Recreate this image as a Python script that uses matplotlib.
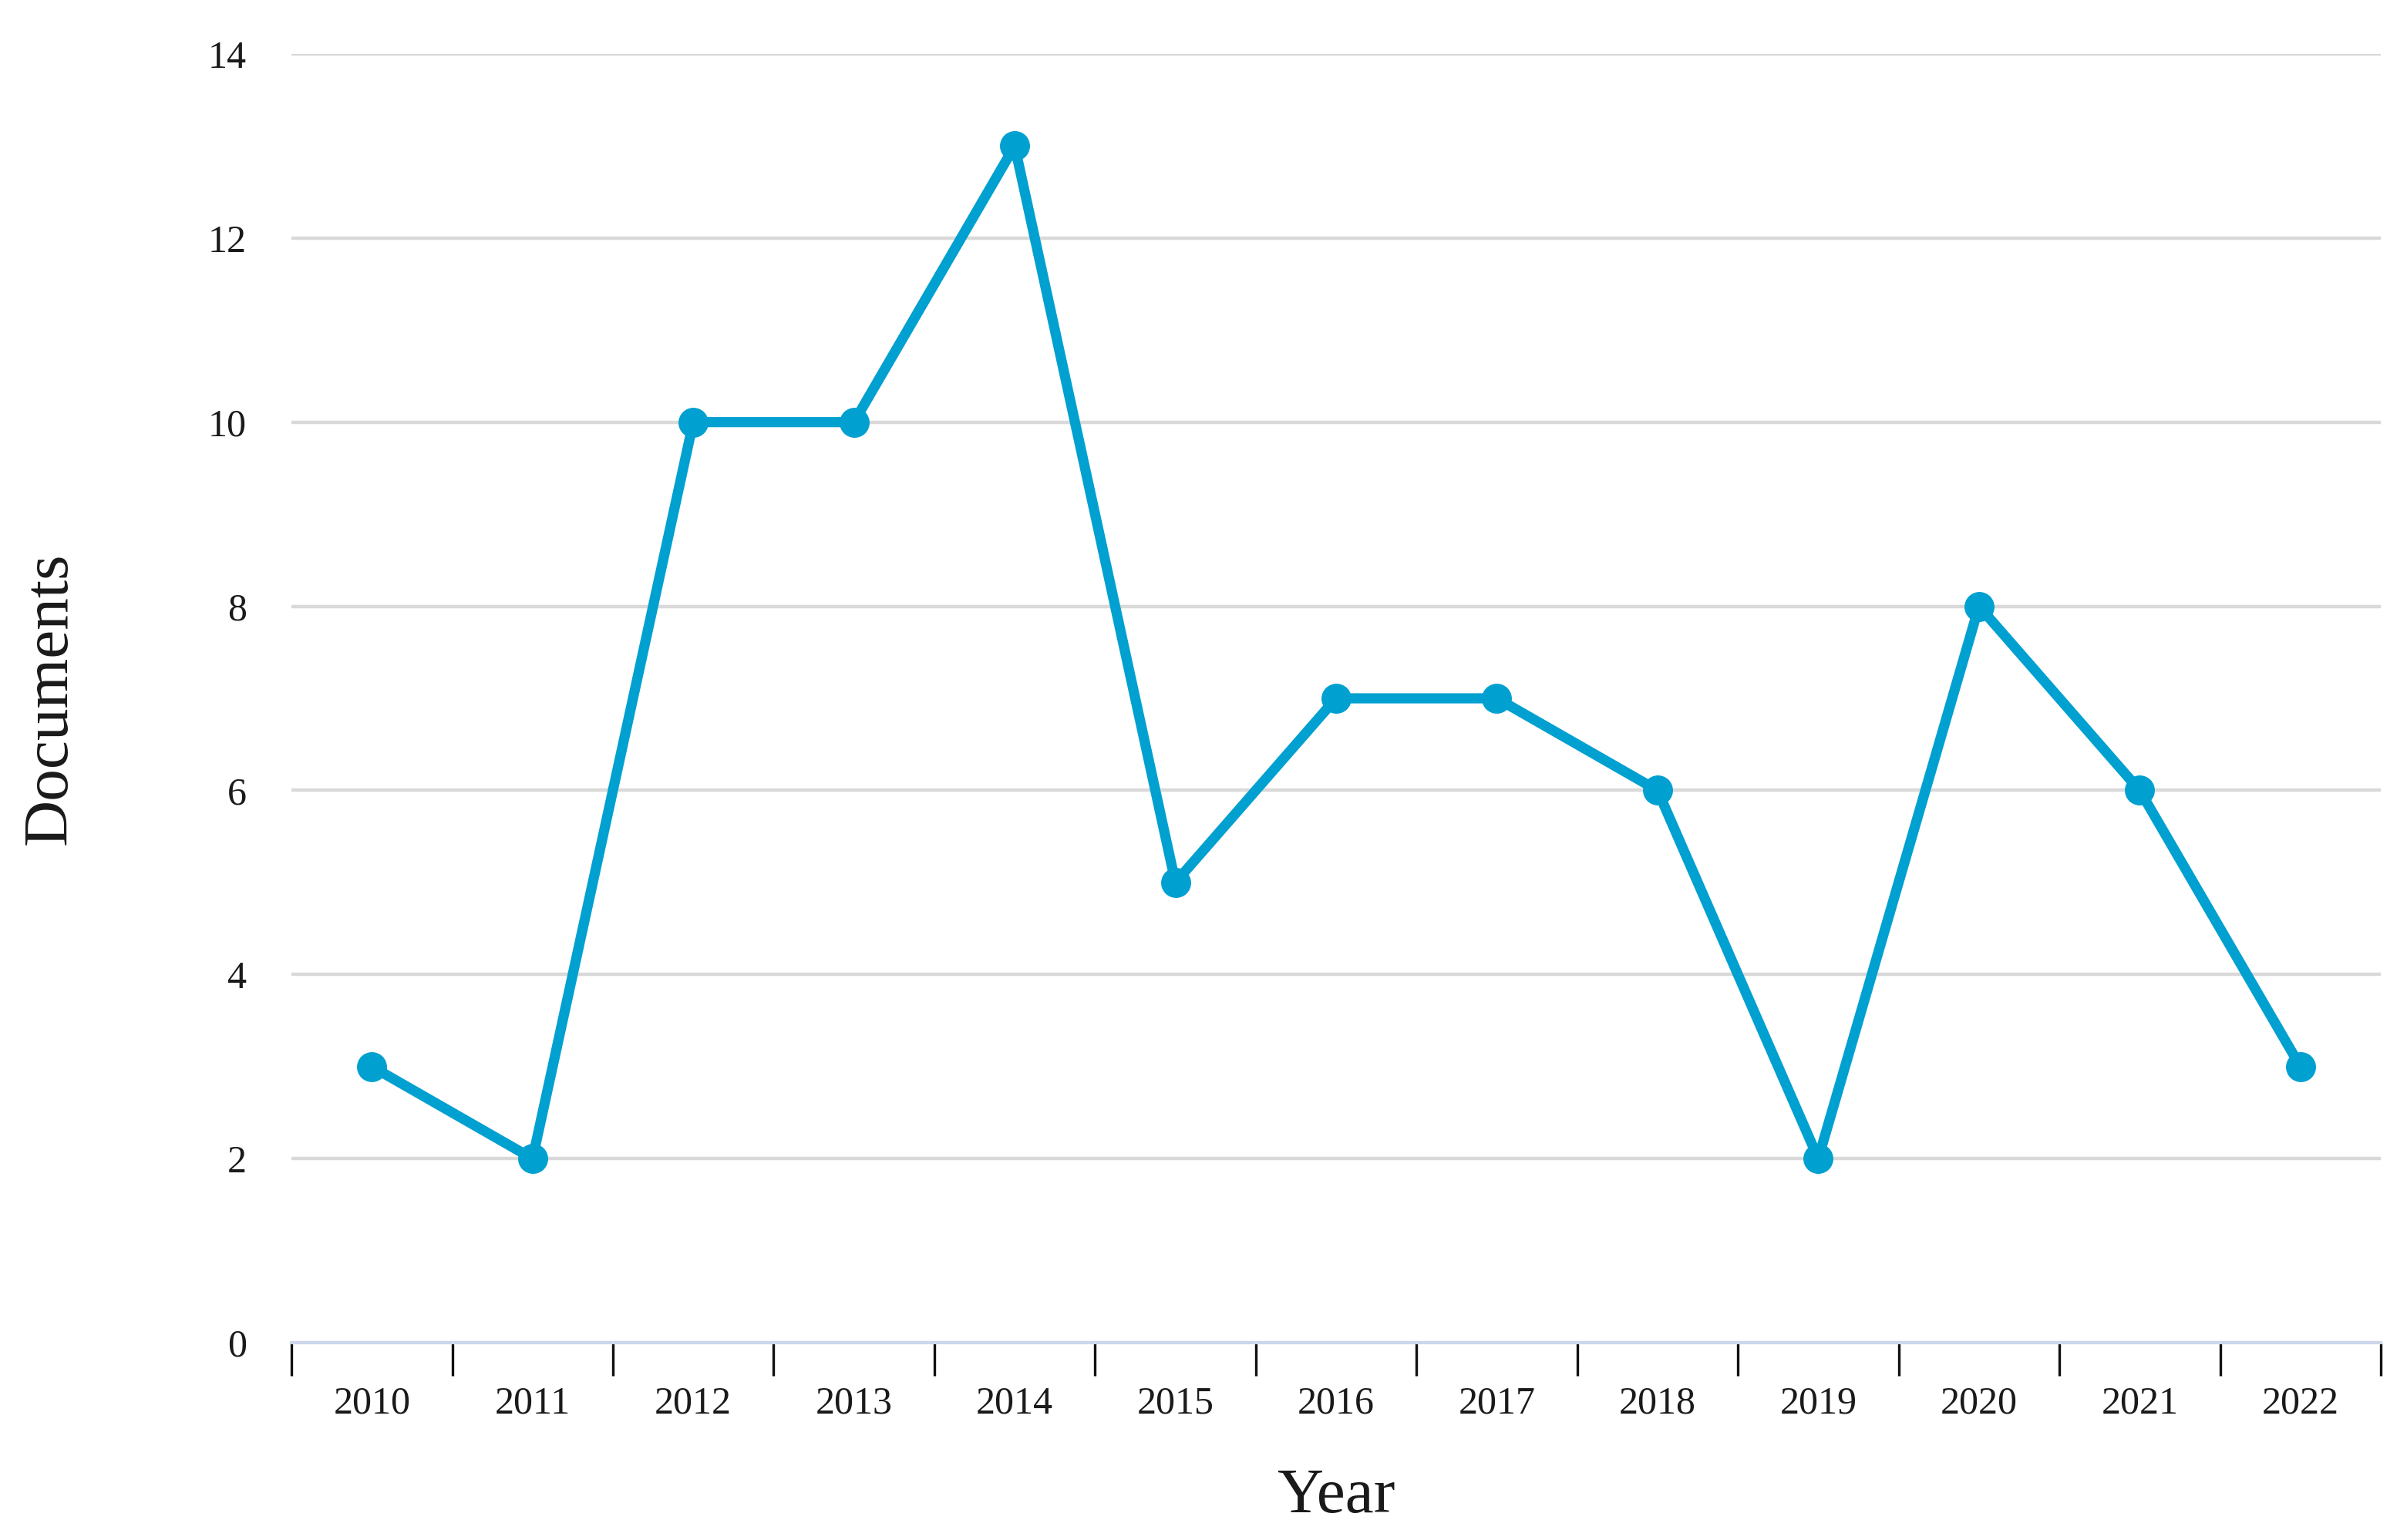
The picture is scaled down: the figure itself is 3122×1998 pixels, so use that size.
import matplotlib
matplotlib.use("Agg")
import matplotlib.pyplot as plt
from matplotlib.ticker import FixedLocator

years = ["2010", "2011", "2012", "2013", "2014", "2015", "2016",
         "2017", "2018", "2019", "2020", "2021", "2022"]
documents = [3, 2, 10, 10, 13, 5, 7, 7, 6, 2, 8, 6, 3]
y_ticks = [0, 2, 4, 6, 8, 10, 12, 14]

plt.rcParams["font.family"] = ["Liberation Serif", "DejaVu Serif"]

fig = plt.figure(figsize=(31.22, 19.98), dpi=100)
ax = fig.add_axes([0.1211, 0.1281, 0.8680, 0.8369])

x = list(range(len(years)))
ax.plot(x, documents, color="#00a0d0", linewidth=9.5, marker="o",
        markersize=27, zorder=3, solid_joinstyle="round")

ax.set_xlim(-0.5, len(years) - 0.5)
ax.set_ylim(0, 14)

# horizontal grid only
ax.set_yticks(y_ticks)
ax.yaxis.grid(True, color="#d9d9d9", linewidth=3.2)
ax.set_axisbelow(True)

# category labels centred, tick marks on the boundaries
ax.set_xticks(x)
ax.set_xticklabels(years)
ax.xaxis.set_minor_locator(FixedLocator([i - 0.5 for i in range(len(years) + 1)]))
ax.tick_params(axis="x", which="major", length=0, pad=40, labelsize=36, labelcolor="#1a1a1a")
ax.tick_params(axis="x", which="minor", length=31, width=2.4, color="#111111", direction="out")
ax.tick_params(axis="y", length=0, pad=42, labelsize=36, labelcolor="#1a1a1a")

for side in ["top", "right", "left"]:
    ax.spines[side].set_visible(False)
ax.spines["bottom"].set_color("#ccd6eb")
ax.spines["bottom"].set_linewidth(3)

fig.text(0.0211, 0.5465, "Documents", rotation=90, ha="center", va="center",
         fontsize=60, color="#1a1a1a")
fig.text(0.555, 0.028, "Year", ha="center", va="center", fontsize=60, color="#1a1a1a")

fig.savefig("out.png", dpi=100, facecolor="white")
